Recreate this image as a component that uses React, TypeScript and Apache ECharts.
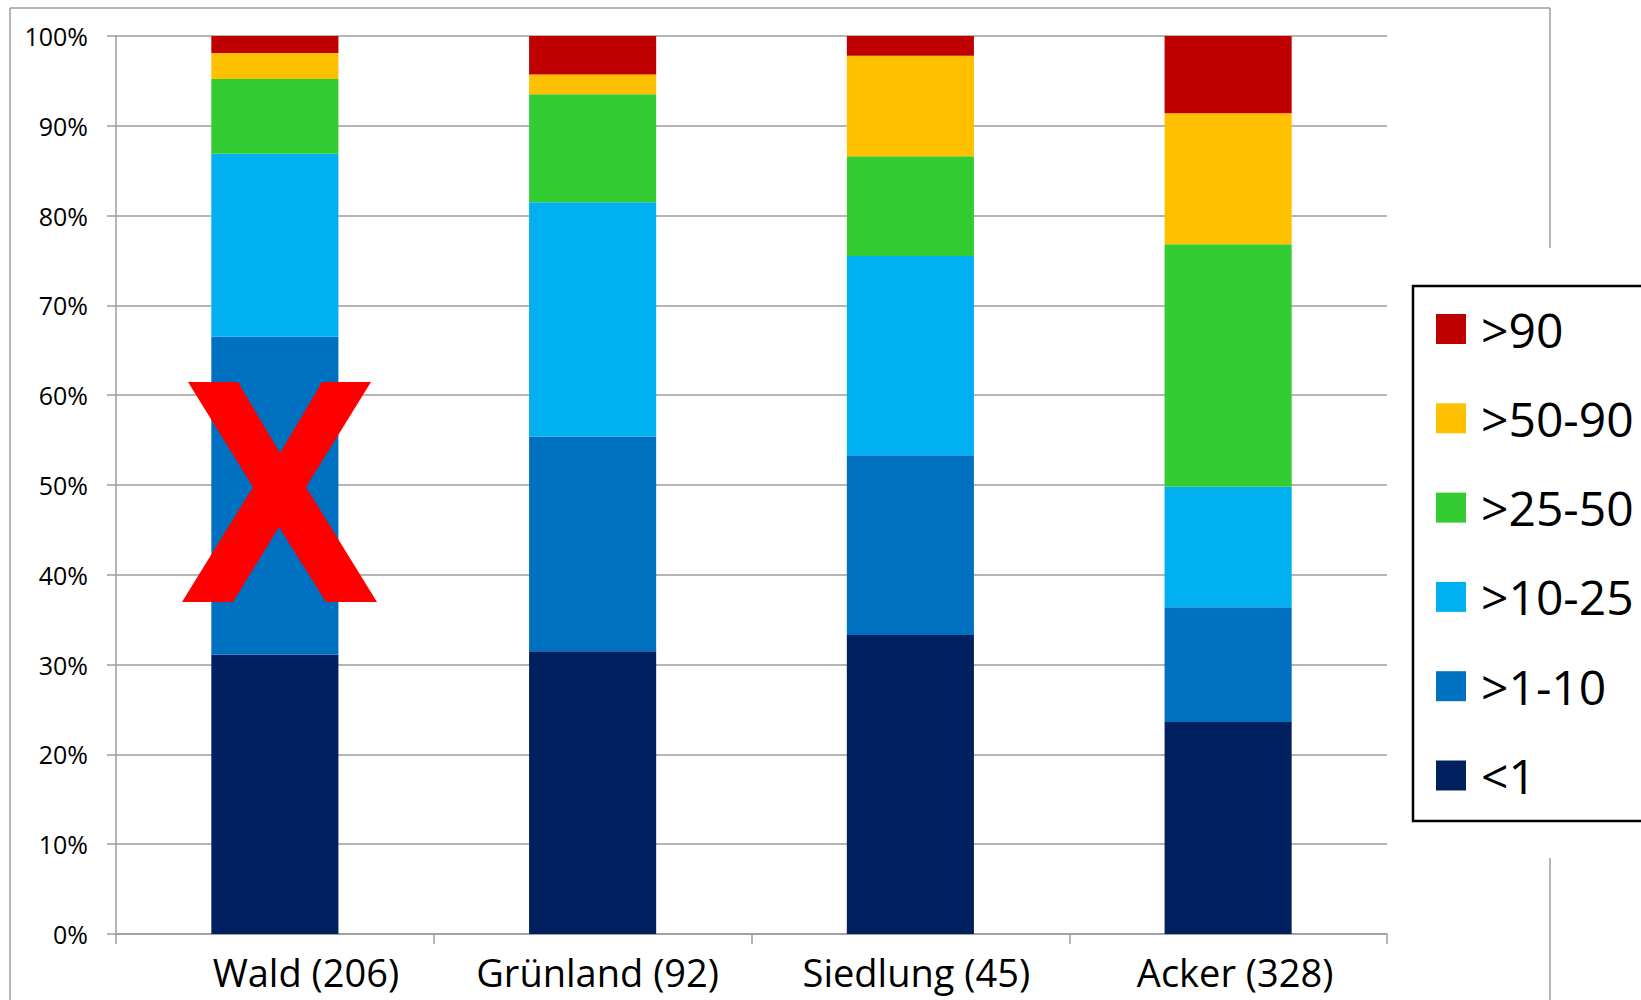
import React, { useEffect, useRef } from "react";
import * as echarts from "echarts";

const categories = ["Wald (206)", "Grünland (92)", "Siedlung (45)", "Acker (328)"];
const classNames = ["<1", ">1-10", ">10-25", ">25-50", ">50-90", ">90"];
const classColors = ["#002060", "#0070C0", "#00B0F0", "#33CC33", "#FFC000", "#C00000"];

const below1 = [31.1, 31.5, 33.3, 23.6];
const from1to10 = [35.4, 23.9, 20.0, 12.8];
const from10to25 = [20.4, 26.1, 22.2, 13.4];
const from25to50 = [8.3, 12.0, 11.1, 27.0];
const from50to90 = [2.9, 2.2, 11.2, 14.6];
const above90 = [1.9, 4.3, 2.2, 8.6];

const seriesValues = [below1, from1to10, from10to25, from25to50, from50to90, above90];
const legendOrder = [...classNames].reverse();
const labelShift = [62, 10, 12, 14];

const FONT = "'Open Sans', 'Noto Sans', sans-serif";
const GRID = "#9c9c9c";

export default function App() {
  const ref = useRef<HTMLDivElement>(null);

  useEffect(() => {
    if (!ref.current) return;
    const chart = echarts.init(ref.current, undefined, { renderer: "svg" });
    const option: any = {
      animation: false,
      backgroundColor: "#ffffff",
      grid: { left: 116, top: 36, right: 254, bottom: 66, containLabel: false },
      xAxis: {
        type: "category",
        data: categories.map((c, i) => ({
          value: c,
          textStyle: { padding: [0, 0, 0, labelShift[i]] },
        })),
        boundaryGap: true,
        axisLine: { show: true, lineStyle: { color: GRID, width: 1.5 } },
        axisTick: { show: true, length: 10, lineStyle: { color: GRID, width: 1.5 } },
        axisLabel: { color: "#000", fontSize: 38, fontFamily: FONT, margin: 19 },
        splitLine: { show: false },
      },
      yAxis: {
        type: "value",
        min: 0,
        max: 100,
        interval: 10,
        axisLine: { show: true, lineStyle: { color: GRID, width: 1.5 } },
        axisTick: { show: true, length: 9, lineStyle: { color: GRID, width: 1.5 } },
        axisLabel: { color: "#000", fontSize: 25, fontFamily: FONT, margin: 28, formatter: "{value}%" },
        splitLine: { show: true, lineStyle: { color: GRID, width: 1.5 } },
      },
      legend: {
        data: legendOrder,
        orient: "vertical",
        left: 1436,
        top: 304,
        padding: 0,
        itemWidth: 30,
        itemHeight: 30,
        itemGap: 39.3,
        icon: "rect",
        selectedMode: false,
        textStyle: { color: "#000", fontSize: 48, fontFamily: FONT, lineHeight: 50, padding: [0, 0, 0, 10] },
      },
      series: classNames.map((name, i) => ({
        name,
        type: "bar",
        stack: "total",
        barWidth: "40%",
        itemStyle: { color: classColors[i] },
        data: seriesValues[i],
      })),
      graphic: [
        { type: "line", shape: { x1: 10, y1: 8, x2: 10, y2: 1000 }, style: { stroke: GRID, lineWidth: 1.5 } },
        { type: "line", shape: { x1: 10, y1: 8, x2: 1550, y2: 8 }, style: { stroke: GRID, lineWidth: 1.5 } },
        { type: "line", shape: { x1: 1550, y1: 8, x2: 1550, y2: 248 }, style: { stroke: GRID, lineWidth: 1.5 } },
        { type: "line", shape: { x1: 1550, y1: 858, x2: 1550, y2: 1000 }, style: { stroke: GRID, lineWidth: 1.5 } },
        {
          type: "rect",
          shape: { x: 1413, y: 286, width: 300, height: 535 },
          style: { fill: "#ffffff", stroke: "#000000", lineWidth: 2.5 },
          z: -1,
        },
        {
          type: "polygon",
          shape: {
            points: [
              [188, 382],
              [238, 382],
              [280, 453],
              [322, 382],
              [371, 382],
              [306, 487],
              [377, 602],
              [326, 602],
              [279, 527],
              [233, 602],
              [182, 602],
              [253, 487],
            ],
          },
          style: { fill: "#FF0000" },
          z: 100,
        },
      ],
    };
    chart.setOption(option);
    return () => chart.dispose();
  }, []);

  return (
    <div
      ref={ref}
      style={{ position: "fixed", left: 0, top: 0, width: 1641, height: 1000, background: "#fff" }}
    />
  );
}
